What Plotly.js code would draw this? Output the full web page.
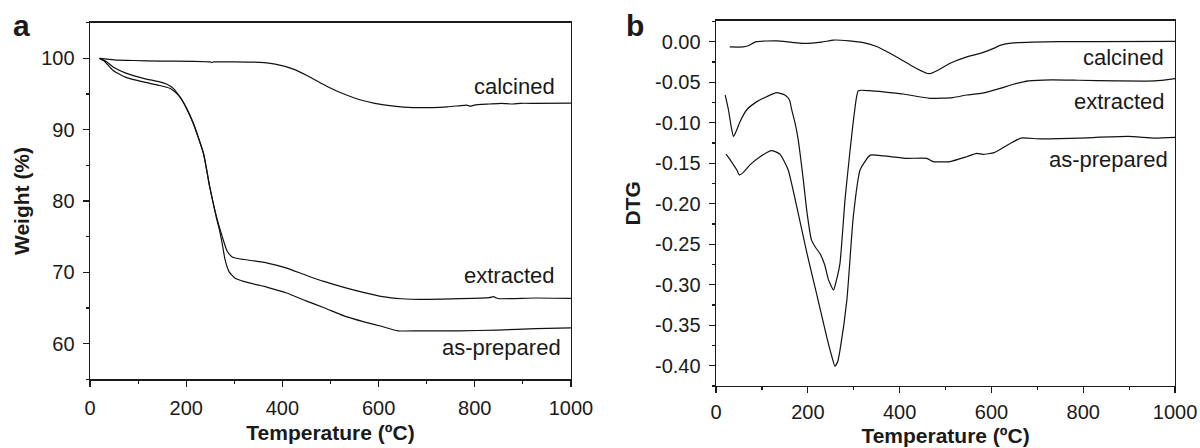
<!DOCTYPE html>
<html>
<head>
<meta charset="utf-8">
<script src="https://cdn.plot.ly/plotly-3.0.1.min.js"></script>
<style>html,body{margin:0;padding:0;background:#fff;}#chart{width:1200px;height:448px;}</style>
</head>
<body>
<div id="chart"></div>
<script>
// ---- Panel a: TGA weight (%) ----
const tempCalcA = [20, 50, 90, 145, 210, 250, 253, 257, 300, 353, 385, 423, 457, 492, 528, 561, 592, 632, 672, 712, 743, 767, 783, 791, 799, 831, 855, 879, 895, 927, 1000];
const weightCalc = [100, 99.8, 99.7, 99.62, 99.58, 99.5, 99.4, 99.5, 99.5, 99.44, 99.2, 98.5, 97.4, 96.1, 95.0, 94.2, 93.7, 93.3, 93.1, 93.1, 93.2, 93.35, 93.45, 93.3, 93.45, 93.6, 93.7, 93.6, 93.7, 93.7, 93.73];

const tempExtrA = [20, 35, 48, 76, 111, 145, 159, 173, 187, 201, 215, 236, 249, 263, 275, 285, 295, 310, 321, 369, 409, 449, 488, 528, 568, 608, 648, 688, 767, 830, 839, 845, 851, 927, 1000];
const weightExtr = [100, 99.5, 98.8, 97.9, 97.2, 96.7, 96.4, 95.8, 94.6, 93.0, 90.9, 86.7, 82.0, 77.8, 75.0, 73.0, 72.2, 71.9, 71.8, 71.3, 70.6, 69.6, 68.7, 67.9, 67.2, 66.6, 66.3, 66.2, 66.3, 66.45, 66.6, 66.4, 66.3, 66.4, 66.35];

const tempPrepA = [20, 30, 48, 76, 111, 145, 166, 180, 190, 201, 215, 236, 249, 263, 269, 275, 281, 289, 295, 301, 321, 369, 409, 449, 488, 528, 568, 608, 640, 688, 767, 847, 927, 1000];
const weightPrep = [100, 99.6, 98.3, 97.3, 96.7, 96.2, 95.8, 95.1, 94.3, 92.9, 90.8, 86.6, 81.9, 77.6, 76.0, 74.0, 71.7, 70.1, 69.6, 69.2, 68.7, 67.9, 67.1, 66.0, 65.0, 63.9, 63.1, 62.4, 61.8, 61.8, 61.8, 61.9, 62.1, 62.2];

// ---- Panel b: DTG ----
const tempCalcB = [30, 59, 70, 88, 132, 165, 190, 230, 256, 290, 321, 350, 379, 400, 423, 440, 459, 466, 481, 510, 548, 581, 606, 619, 648, 689, 748, 831, 1000];
const dtgCalc = [-0.0065, -0.0065, -0.005, 0, 0.001, -0.0008, -0.002, -0.0005, 0.002, 0.001, -0.0012, -0.006, -0.0143, -0.021, -0.0288, -0.034, -0.039, -0.0395, -0.0358, -0.0267, -0.0185, -0.0135, -0.008, -0.0045, -0.0015, -0.0005, 0, 0, 0.0004];

const tempExtrB = [20, 27, 33, 38, 45, 52, 67, 89, 110, 132, 150, 160, 165, 172, 179, 190, 198, 208, 218, 227, 237, 245, 256, 262, 270, 281, 292, 302, 310, 335, 373, 408, 466, 515, 546, 580, 619, 648, 681, 731, 789, 873, 956, 1000];
const dtgExtr = [-0.066, -0.084, -0.105, -0.117, -0.109, -0.099, -0.084, -0.074, -0.068, -0.063, -0.0658, -0.072, -0.0843, -0.1, -0.121, -0.17, -0.21, -0.245, -0.255, -0.262, -0.276, -0.294, -0.3065, -0.295, -0.2736, -0.195, -0.134, -0.085, -0.0605, -0.0605, -0.0625, -0.0646, -0.0699, -0.069, -0.0658, -0.0635, -0.0576, -0.0525, -0.0484, -0.0472, -0.0476, -0.0484, -0.0484, -0.0455];

const tempPrepB = [22, 30, 38, 45, 51, 60, 74, 96, 121, 139, 157, 176, 198, 219, 241, 252, 259, 265, 270, 285, 299, 314, 336, 365, 415, 459, 473, 510, 546, 568, 581, 606, 640, 664, 706, 789, 898, 956, 1000];
const dtgPrep = [-0.1387, -0.145, -0.152, -0.158, -0.1646, -0.161, -0.152, -0.142, -0.1345, -0.1387, -0.158, -0.204, -0.261, -0.311, -0.364, -0.388, -0.4004, -0.395, -0.381, -0.319, -0.216, -0.158, -0.140, -0.141, -0.144, -0.144, -0.148, -0.148, -0.142, -0.1378, -0.139, -0.137, -0.126, -0.119, -0.120, -0.119, -0.117, -0.119, -0.118];

// ---- Tick labels ----
const xTicks = [0, 200, 400, 600, 800, 1000];
const yTicksA = [60, 70, 80, 90, 100];
const yTicksB = [-0.40, -0.35, -0.30, -0.25, -0.20, -0.15, -0.10, -0.05, 0.00];
const yTickTextB = ['-0.40', '-0.35', '-0.30', '-0.25', '-0.20', '-0.15', '-0.10', '-0.05', '0.00'];

const seriesLabels = ['calcined', 'extracted', 'as-prepared'];

const FONT = 'Liberation Sans, Arial, Helvetica, sans-serif';
const INK = '#1a1a1a';
const lineStyle = {color: '#111', width: 1.2, shape: 'spline', smoothing: 0.5};

function tr(x, y, name, xa, ya) {
  return {x: x, y: y, name: name, type: 'scatter', mode: 'lines', line: lineStyle,
          xaxis: xa, yaxis: ya, showlegend: false, hoverinfo: 'x+y+name'};
}

const data = [
  tr(tempCalcA, weightCalc, seriesLabels[0], 'x', 'y'),
  tr(tempExtrA, weightExtr, seriesLabels[1], 'x', 'y'),
  tr(tempPrepA, weightPrep, seriesLabels[2], 'x', 'y'),
  tr(tempCalcB, dtgCalc, seriesLabels[0], 'x2', 'y2'),
  tr(tempExtrB, dtgExtr, seriesLabels[1], 'x2', 'y2'),
  tr(tempPrepB, dtgPrep, seriesLabels[2], 'x2', 'y2')
];

const axisCommon = {
  showline: true, mirror: true, linecolor: INK, linewidth: 1.4,
  showgrid: false, zeroline: false,
  ticks: 'outside', ticklen: 6, tickwidth: 1.3, tickcolor: INK,
  tickfont: {family: FONT, size: 20, color: INK},
  automargin: false, fixedrange: true
};
const titleFont = {family: FONT, size: 21, color: INK, weight: 700};

const layout = {
  width: 1200, height: 448,
  margin: {l: 0, r: 0, t: 0, b: 0},
  paper_bgcolor: '#fff', plot_bgcolor: '#fff',
  xaxis: Object.assign({}, axisCommon, {
    domain: [0.075, 0.4758], range: [0, 1000], anchor: 'y',
    tickvals: xTicks, ticklabelstandoff: 4,
    minor: {tickvals: [100, 300, 500, 700, 900], ticks: 'outside', ticklen: 3, tickcolor: INK, tickwidth: 1.2},
    title: {text: 'Temperature (ºC)', font: titleFont, standoff: 7}
  }),
  yaxis: Object.assign({}, axisCommon, {
    domain: [0.1533, 0.9493], range: [55, 105], anchor: 'x',
    tickvals: yTicksA, ticklabelstandoff: 4,
    minor: {tickvals: [55, 65, 75, 85, 95, 105], ticks: 'outside', ticklen: 3, tickcolor: INK, tickwidth: 1.2},
    title: {text: 'Weight (%)', font: titleFont, standoff: 6}
  }),
  xaxis2: Object.assign({}, axisCommon, {
    domain: [0.5967, 0.9792], range: [0, 1000], anchor: 'y2',
    tickvals: xTicks, ticklabelstandoff: 2,
    minor: {tickvals: [100, 300, 500, 700, 900], ticks: 'outside', ticklen: 3, tickcolor: INK, tickwidth: 1.2},
    title: {text: 'Temperature (ºC)', font: titleFont, standoff: 6}
  }),
  yaxis2: Object.assign({}, axisCommon, {
    domain: [0.1384, 0.9538], range: [-0.425, 0.0259], anchor: 'x2',
    tickvals: yTicksB, ticktext: yTickTextB, ticklabelstandoff: 4,
    minor: {tickvals: [-0.425, -0.375, -0.325, -0.275, -0.225, -0.175, -0.125, -0.075, -0.025, 0.025], ticks: 'outside', ticklen: 3, tickcolor: INK, tickwidth: 1.2},
    title: {text: 'DTG', font: titleFont, standoff: 8}
  }),
  annotations: [
    {xref: 'paper', yref: 'paper', x: 0.009, y: 0.943, xanchor: 'left', yanchor: 'middle', text: '<b>a</b>', showarrow: false, font: {family: FONT, size: 30, color: INK}},
    {xref: 'paper', yref: 'paper', x: 0.52, y: 0.943, xanchor: 'left', yanchor: 'middle', text: '<b>b</b>', showarrow: false, font: {family: FONT, size: 30, color: INK}},
    {xref: 'x', yref: 'y', x: 970, y: 96.1, xanchor: 'right', yanchor: 'middle', text: seriesLabels[0], showarrow: false, font: {family: FONT, size: 22, color: INK}},
    {xref: 'x', yref: 'y', x: 972, y: 69.6, xanchor: 'right', yanchor: 'middle', text: seriesLabels[1], showarrow: false, font: {family: FONT, size: 22, color: INK}},
    {xref: 'x', yref: 'y', x: 984, y: 59.5, xanchor: 'right', yanchor: 'middle', text: seriesLabels[2], showarrow: false, font: {family: FONT, size: 22, color: INK}},
    {xref: 'x2', yref: 'y2', x: 981, y: -0.019, xanchor: 'right', yanchor: 'middle', text: seriesLabels[0], showarrow: false, font: {family: FONT, size: 22, color: INK}},
    {xref: 'x2', yref: 'y2', x: 983, y: -0.0738, xanchor: 'right', yanchor: 'middle', text: seriesLabels[1], showarrow: false, font: {family: FONT, size: 22, color: INK}},
    {xref: 'x2', yref: 'y2', x: 990, y: -0.145, xanchor: 'right', yanchor: 'middle', text: seriesLabels[2], showarrow: false, font: {family: FONT, size: 22, color: INK}}
  ]
};

Plotly.newPlot('chart', data, layout, {displayModeBar: false, staticPlot: true});
</script>
</body>
</html>
